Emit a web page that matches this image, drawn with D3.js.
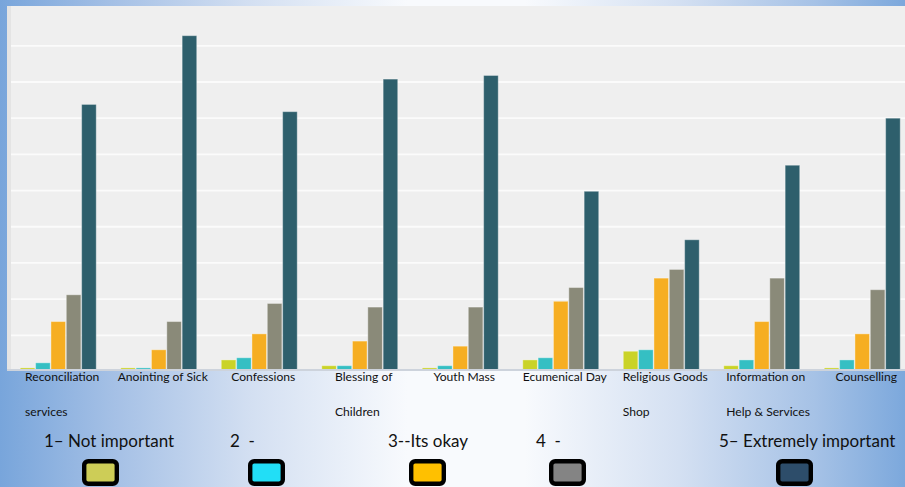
<!DOCTYPE html>
<html>
<head>
<meta charset="utf-8">
<script src="https://cdn.jsdelivr.net/npm/d3@7/dist/d3.min.js"></script>
<style>
  html, body { margin: 0; padding: 0; background: #fff; }
  svg { display: block; }
  text { font-family: Lato, "Open Sans", sans-serif; fill: #111; }
</style>
</head>
<body>
<svg id="chart" width="905" height="487"></svg>
<script>
// Services rated by importance (share of respondents per rating)
const categories = [
  "Reconciliation\nservices",
  "Anointing of Sick",
  "Confessions",
  "Blessing of\nChildren",
  "Youth Mass",
  "Ecumenical Day",
  "Religious Goods\nShop",
  "Information on\nHelp & Services",
  "Counselling"
];

const seriesNames = ["1– Not important", "2  -", "3--Its okay", "4  -", "5– Extremely important"];

const notImportant = [0.5, 0.5, 1.6, 0.8, 0.5, 1.6, 2.8, 0.8, 0.5];
const ratingTwo    = [1.2, 0.5, 1.9, 0.8, 0.8, 1.9, 3.0, 1.6, 1.6];
const itsOkay      = [6.9, 3.0, 5.2, 4.2, 3.5, 9.7, 12.9, 6.9, 5.2];
const ratingFour   = [10.6, 6.9, 9.4, 8.9, 8.9, 11.6, 14.1, 12.9, 11.3];
const extremely    = [36.9, 46.4, 35.9, 40.4, 40.9, 24.9, 18.2, 28.5, 35.0];

const gridValues = [5, 10, 15, 20, 25, 30, 35, 40, 45];

const seriesValues = [notImportant, ratingTwo, itsOkay, ratingFour, extremely];

// Styling
const barColors = ["#cad328", "#35bfc3", "#f6ae22", "#8a8a79", "#2e5f6c"];
const keyColors = ["#cdcd57", "#22def6", "#ffc000", "#848484", "#2d4d6a"];

const W = 905, H = 487;
const plot = { left: 7, top: 6, right: 905, bottom: 369.5 };

const svg = d3.select("#chart");
const defs = svg.append("defs");

// Page background: blue edges fading to white in the middle
const bg = defs.append("linearGradient").attr("id", "bgGrad")
  .attr("x1", "0%").attr("x2", "100%").attr("y1", "0%").attr("y2", "0%");
[[0, "#78a5db"], [0.12, "#a3bfe5"], [0.28, "#d4e0f2"], [0.45, "#f8fafd"],
 [0.58, "#f8fafd"], [0.75, "#d4e0f2"], [0.9, "#a6c2e6"], [1, "#7ca8dc"]]
  .forEach(([o, c]) => bg.append("stop").attr("offset", o).attr("stop-color", c));

svg.append("rect").attr("width", W).attr("height", H).attr("fill", "url(#bgGrad)");

defs.append("clipPath").attr("id", "plotClip").append("rect")
  .attr("x", plot.left).attr("y", plot.top)
  .attr("width", plot.right - plot.left).attr("height", plot.bottom - plot.top);

// Plot area
svg.append("rect")
  .attr("x", plot.left).attr("y", plot.top)
  .attr("width", plot.right - plot.left).attr("height", plot.bottom - plot.top)
  .attr("fill", "#efefef");
svg.append("rect")
  .attr("x", plot.left).attr("y", plot.top)
  .attr("width", 4).attr("height", plot.bottom - plot.top)
  .attr("fill", "#e4e4e4");

// Scales
const y = d3.scaleLinear().domain([0, 50.5]).range([371.5, 6]);
const x0 = d3.scaleBand().domain(categories).range([8, 912.5])
  .paddingInner(0.229).paddingOuter(0.1145);
const x1 = d3.scaleBand().domain(d3.range(seriesNames.length))
  .range([0, x0.bandwidth()]).padding(0.05);

// Gridlines
svg.append("g").selectAll("line").data(gridValues).join("line")
  .attr("x1", plot.left + 4).attr("x2", plot.right)
  .attr("y1", d => y(d)).attr("y2", d => y(d))
  .attr("stroke", "#fbfbfb").attr("stroke-width", 1.8);

// Bars
const bars = svg.append("g").attr("clip-path", "url(#plotClip)");
const groups = bars.selectAll("g").data(categories).join("g")
  .attr("transform", d => `translate(${x0(d)},0)`);
groups.selectAll("rect")
  .data((d, i) => seriesValues.map((vals, s) => ({ s, v: vals[i] })))
  .join("rect")
  .attr("x", d => x1(d.s))
  .attr("width", x1.bandwidth())
  .attr("y", d => y(d.v))
  .attr("height", d => y(0) - y(d.v))
  .attr("fill", d => barColors[d.s])
  .attr("stroke", "rgba(255,255,255,0.35)")
  .attr("stroke-width", 1);

// Category axis line
svg.append("line")
  .attr("x1", plot.left).attr("x2", plot.right)
  .attr("y1", 370).attr("y2", 370)
  .attr("stroke", "#cdd3dc").attr("stroke-width", 2);

// Category labels: lines left-aligned, first line centred on the group
const labels = svg.append("g").selectAll("text").data(categories).join("text")
  .attr("font-size", 12.1);
labels.each(function (d) {
  const t = d3.select(this);
  const lines = d.split("\n");
  lines.forEach((ln, k) => {
    t.append("tspan").attr("y", 381 + k * 35.3).text(ln);
  });
  const firstW = t.select("tspan").node().getComputedTextLength();
  const left = x0(d) + x0.bandwidth() / 2 + 4 - firstW / 2;
  t.selectAll("tspan").attr("x", left);
});

// Legend
const legendTextX = [44, 230, 388, 536, 719];
const legendKeyX = [82, 248, 409, 549, 776];
const legend = svg.append("g");
legend.selectAll("text").data(seriesNames).join("text")
  .attr("x", (d, i) => legendTextX[i]).attr("y", 447)
  .attr("font-size", 17).attr("xml:space", "preserve")
  .style("white-space", "pre")
  .text(d => d);
legend.selectAll("rect").data(seriesNames).join("rect")
  .attr("x", (d, i) => legendKeyX[i] + 2.2).attr("y", 461.2)
  .attr("width", 32.6).attr("height", 22.6)
  .attr("rx", 4).attr("ry", 4)
  .attr("fill", (d, i) => keyColors[i])
  .attr("stroke", "#000").attr("stroke-width", 4.4);
</script>
</body>
</html>
